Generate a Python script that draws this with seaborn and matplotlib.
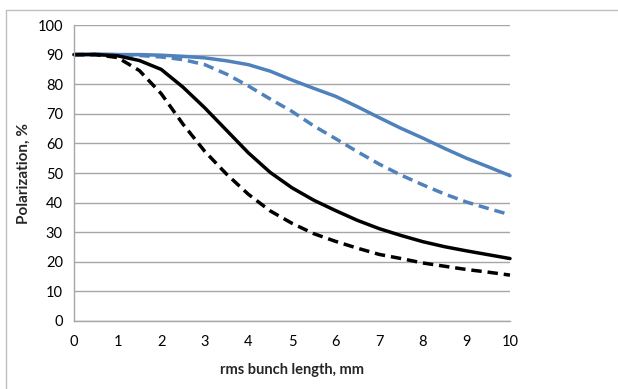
import numpy as np
import pandas as pd
import matplotlib
matplotlib.use("Agg")
import matplotlib.pyplot as plt
from matplotlib.patches import Rectangle
import seaborn as sns

# Data
x_vals = [0, 0.5, 1, 1.5, 2, 2.5, 3, 3.5, 4, 4.5, 5, 5.5, 6, 6.5, 7, 7.5, 8, 8.5, 9, 9.5, 10]
y_blue_solid = [90, 90.2, 90, 90, 89.8, 89.4, 88.9, 87.9, 86.6, 84.4, 81.4, 78.6, 75.9, 72.4, 68.7, 65.1, 61.8, 58.3, 55, 52.1, 49.1]
y_blue_dash = [90, 90, 90, 89.7, 89.2, 88.3, 86.6, 83.4, 79.4, 75, 70.8, 65.9, 61.6, 57.2, 53, 49.3, 46, 42.9, 40.2, 38, 35.9]
y_black_solid = [90, 90, 89.6, 88, 85, 79, 72, 64.4, 56.8, 50.2, 45, 40.8, 37.3, 34, 31.2, 28.9, 26.8, 25.1, 23.7, 22.4, 21.1]
y_black_dash = [90, 90, 89, 84.6, 76.8, 66.5, 57.3, 49.6, 42.8, 37.2, 33, 29.5, 26.9, 24.6, 22.5, 21.1, 19.6, 18.5, 17.4, 16.5, 15.5]

x_ticks = list(range(0, 11))
y_ticks = list(range(0, 101, 10))
x_label = "rms bunch length, mm"
y_label = "Polarization, %"

sns.set_style("white")
plt.rcParams['font.family'] = ['Lato', 'DejaVu Sans']

fig = plt.figure(figsize=(6.18, 3.89), dpi=100)
ax = fig.add_axes([74/618, 1-321/389, 436/618, 296/389])

blue = "#4f81bd"
lw = 2.5
series = [
    (y_blue_solid, blue, None),
    (y_blue_dash, blue, (3.0, 1.7)),
    (y_black_solid, "black", None),
    (y_black_dash, "black", (3.0, 1.7)),
]
for ys, c, d in series:
    df = pd.DataFrame({"x": x_vals, "y": ys})
    sns.lineplot(data=df, x="x", y="y", color=c, linewidth=lw, ax=ax)
    l = ax.lines[-1]
    if d is not None:
        l.set_dashes(d)
    l.set_dash_capstyle("butt")
    l.set_solid_joinstyle("round")
    l.set_clip_on(False)

ax.set_xlim(0, 10)
ax.set_ylim(0, 100)
ax.set_xticks(x_ticks)
ax.set_yticks(y_ticks)
ax.set_xticklabels([str(t) for t in x_ticks], fontsize=10.5)
ax.set_yticklabels([str(t) for t in y_ticks], fontsize=10.5)
ax.set_xlabel(x_label, fontsize=10.5, fontweight="bold", labelpad=10)
ax.set_ylabel(y_label, fontsize=11, fontweight="bold", labelpad=5)

ax.grid(axis="y", color="#a6a6a6", linewidth=1)
ax.grid(axis="x", visible=False)
ax.set_axisbelow(True)
for s in ["top", "right"]:
    ax.spines[s].set_visible(False)
for s in ["left", "bottom"]:
    ax.spines[s].set_color("#a6a6a6")
    ax.spines[s].set_linewidth(1)
ax.tick_params(axis="both", direction="out", length=4, width=1, colors="black")
ax.tick_params(axis="x", pad=6)
ax.tick_params(axis="y", pad=4)
for t in ax.get_xticklines() + ax.get_yticklines():
    t.set_color("#a6a6a6")

fig.patches.append(Rectangle((6/618, -0.1), 1.2, 1.1 - 10/389, transform=fig.transFigure,
                             fill=False, edgecolor="#bfbfbf", linewidth=1))

fig.savefig("out.png", dpi=100)
